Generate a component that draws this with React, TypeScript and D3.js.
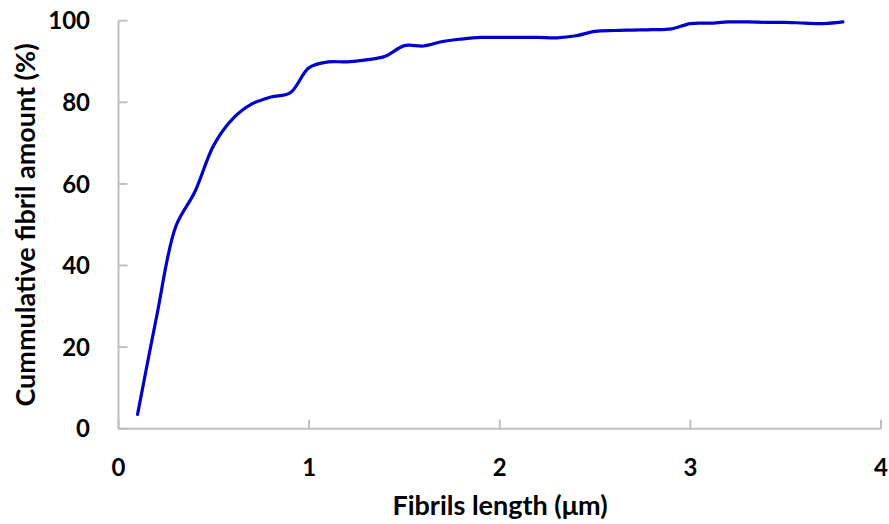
import React from "react";
import * as d3 from "d3";

const lengths = [0.1,0.2,0.3,0.4,0.5,0.6,0.7,0.8,0.9,1.0,1.1,1.2,1.3,1.4,1.5,1.6,1.7,1.8,1.9,2.0,2.1,2.2,2.3,2.4,2.5,2.6,2.7,2.8,2.9,3.0,3.1,3.2,3.3,3.4,3.5,3.6,3.7,3.8];
const cumulative = [3.5,27.5,49.5,58,69.5,76,79.6,81.3,82.3,88.5,89.9,89.9,90.4,91.3,93.9,93.8,94.9,95.5,95.9,95.9,95.9,95.9,95.8,96.3,97.4,97.6,97.7,97.8,98.0,99.3,99.4,99.7,99.7,99.6,99.6,99.4,99.3,99.7];
const xTicks = [0,1,2,3,4];
const yTicks = [0,20,40,60,80,100];

const W = 889, H = 524;
const FONT = "Lato, 'Open Sans', sans-serif";

export default function App() {
  const x = d3.scaleLinear().domain([0, 4]).range([118.5, 881]);
  const y = d3.scaleLinear().domain([0, 100]).range([428.7, 20.7]);
  const pts = lengths.map((l, i) => [l, cumulative[i]] as [number, number]);
  const line = d3.line<[number, number]>().x(d => x(d[0])).y(d => y(d[1])).curve(d3.curveCatmullRom.alpha(0.5));
  const axisColor = "#BFBFBF";
  return (
    <svg width={W} height={H} style={{ position: "absolute", left: 0, top: 0, background: "#fff" }}>
      <line x1={x(0)} x2={x(0)} y1={y(100)} y2={y(0)} stroke={axisColor} strokeWidth={2} />
      <line x1={x(0)} x2={x(4)} y1={y(0)} y2={y(0)} stroke={axisColor} strokeWidth={2} />
      {yTicks.map(t => (
        <g key={"y" + t}>
          <line x1={x(0)} x2={x(0) + 9} y1={y(t)} y2={y(t)} stroke={axisColor} strokeWidth={2} />
          <text x={90} y={y(t)} dy="0.36em" textAnchor="end" fontFamily={FONT} fontWeight={700} fontSize={24} fill="#000">{t}</text>
        </g>
      ))}
      {xTicks.map(t => (
        <g key={"x" + t}>
          <line x1={x(t)} x2={x(t)} y1={y(0)} y2={y(0) - 9} stroke={axisColor} strokeWidth={2} />
          <text x={x(t)} y={467} dy="0.36em" textAnchor="middle" fontFamily={FONT} fontWeight={700} fontSize={24} fill="#000">{t}</text>
        </g>
      ))}
      <path d={line(pts) || ""} fill="none" stroke="#0000CC" strokeWidth={3.2} strokeLinecap="round" />
      <text x={500} y={515} textAnchor="middle" fontFamily={FONT} fontWeight={700} fontSize={27} fill="#000">Fibrils length (μm)</text>
      <text transform={`translate(25,225) rotate(-90)`} dy="0.36em" textAnchor="middle" fontFamily={FONT} fontWeight={700} fontSize={27} fill="#000">Cummulative fibril amount (%)</text>
    </svg>
  );
}
